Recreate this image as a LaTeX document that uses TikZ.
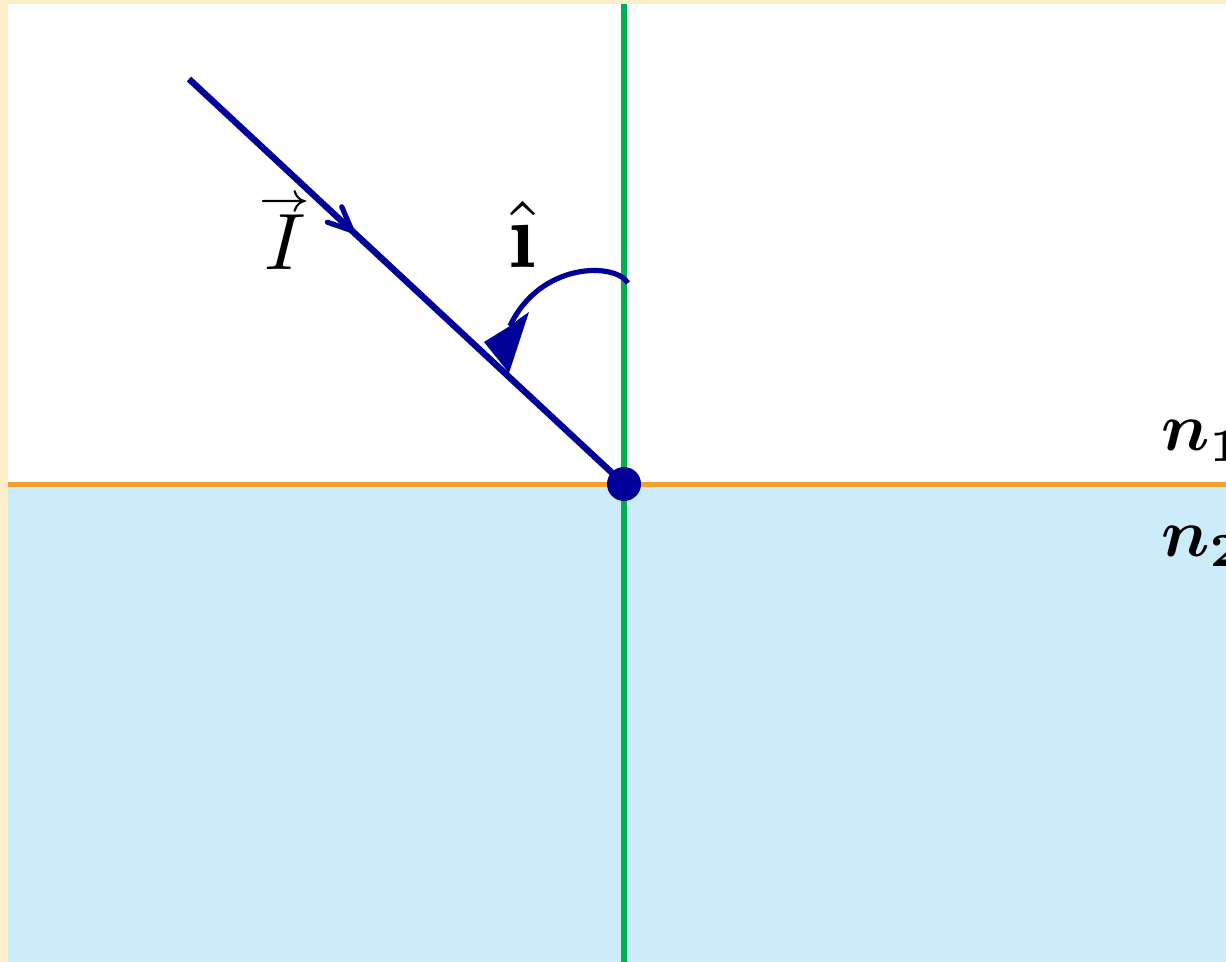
\documentclass[tikz,border=0pt]{standalone}
\usepackage{amsmath,amssymb,bm}
\usetikzlibrary{arrows.meta,decorations.markings}
\definecolor{cream}{RGB}{253,239,202}
\definecolor{water}{RGB}{204,236,252}
\definecolor{normalgreen}{RGB}{0,176,80}
\definecolor{surface}{RGB}{240,160,48}
\definecolor{navy}{RGB}{0,0,153}
\tikzset{
  lbl/.style={inner sep=0pt, anchor=base west},
  raystyle/.style={draw=navy, line width=3.2pt},
  dotstyle/.style={circle, fill=navy, inner sep=0pt, minimum size=17pt},
}
\begin{document}
\begin{tikzpicture}[x=0.5pt,y=-0.5pt]
\useasboundingbox (0,0) rectangle (1226,962);
% background
\fill[cream] (0,0) rectangle (1226,962);
\fill[white] (8,4) rectangle (1226,484);
\fill[water] (8,484) rectangle (1226,962);
% normal and surface
\coordinate (ntop) at (624,4);
\coordinate (nbot) at (624,962);
\coordinate (sleft) at (8,484);
\coordinate (sright) at (1226,484);
\draw[surface, line width=2.5pt] (sleft) -- (sright);
\draw[normalgreen, line width=3pt] (ntop) -- (nbot);
% incident ray
\coordinate (start) at (189,79);
\node[dotstyle] (O) at (624,484) {};
\draw[raystyle] (start) -- (O.center);
% barbed arrow on the ray
\coordinate (tip) at (352,230.7);
\coordinate (barbA) at (327.4,222.2);
\coordinate (barbB) at (341.8,206.8);
\draw[navy, line width=2.6pt, line cap=round, line join=round] (barbA) -- (tip) -- (barbB);
% angle arc
\coordinate (arcstart) at (628,283);
\coordinate (arcend) at (510,326);
\draw[navy, line width=2.6pt] (arcstart) .. controls (615,262) and (540,262) .. (arcend);
\fill[navy] (484,342) -- (510,326) -- (519,319) -- (529,312) -- (509,373) -- cycle;
% labels
\node[lbl, scale=4] (Ilbl) at (256,270) {$\overset{\raisebox{-1.5pt}[0pt][0pt]{$\scriptscriptstyle\rightarrow$}}{I}$};
\node[lbl, scale=4.7] (ilbl) at (506,268) {$\hat{\text{\textbf{\i}}}$};
\node[lbl, scale=3.4] (n1) at (1160,451) {$\bm{n}_{\mathbf{1}}$};
\node[lbl, scale=3.4] (n2) at (1160,556) {$\bm{n}_{\mathbf{2}}$};
\end{tikzpicture}
\end{document}
